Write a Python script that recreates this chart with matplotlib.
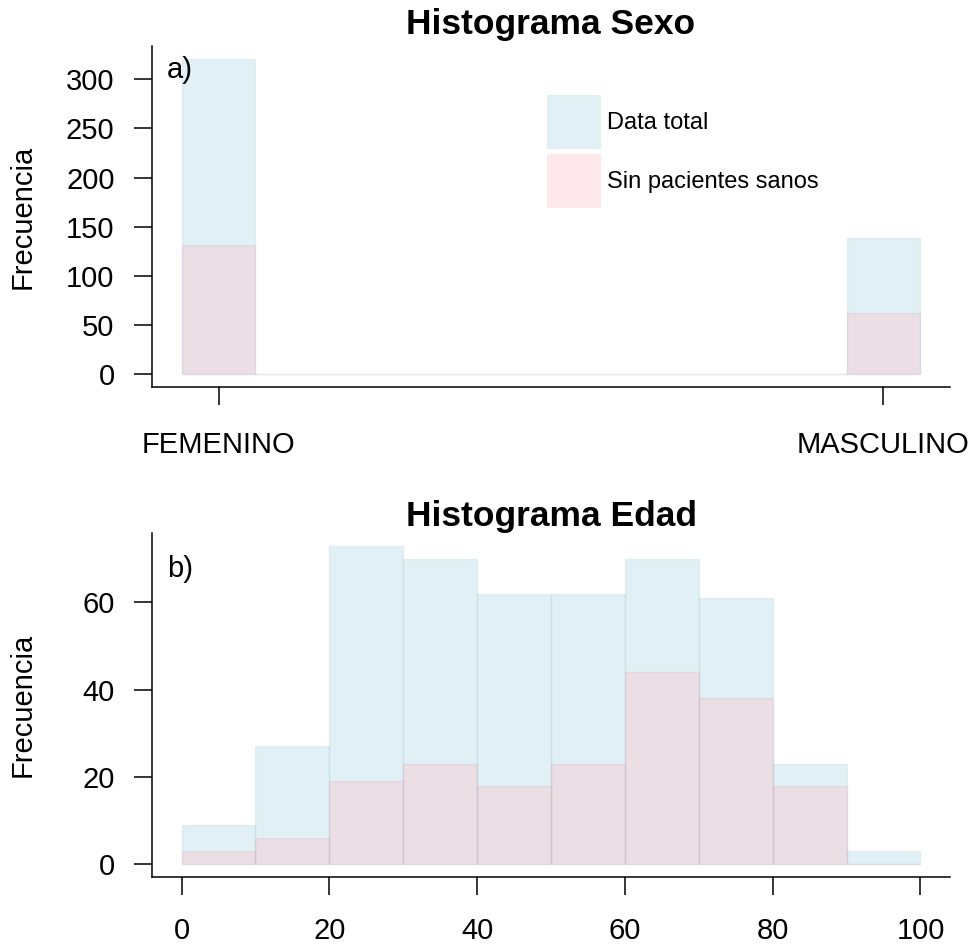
import numpy as np
import matplotlib.pyplot as plt
from matplotlib.patches import Patch

plt.rcParams['font.family'] = ['Liberation Sans', 'DejaVu Sans']

# Sexo
sex_labels = ['FEMENINO', 'MASCULINO']
sex_total = [321, 139]
sex_sin_sanos = [132, 62]

# Edad (bins of 10 years)
age_edges = [0, 10, 20, 30, 40, 50, 60, 70, 80, 90, 100]
age_total = [9, 27, 73, 70, 62, 62, 70, 61, 23, 3]
age_sin_sanos = [3, 6, 19, 23, 18, 23, 44, 38, 18, 0]

col_total = (173/255, 216/255, 230/255, 0.36)
col_sin = (255/255, 192/255, 203/255, 0.36)
edge_total = (0.55, 0.70, 0.75, 0.15)
edge_sin = (0.75, 0.55, 0.65, 0.15)

legend_labels = ['Data total', 'Sin pacientes sanos']


def style_axes(ax, xpad=19):
    """R-like 'l' box with outward ticks."""
    for side in ['top', 'right']:
        ax.spines[side].set_visible(False)
    for side in ['left', 'bottom']:
        ax.spines[side].set_linewidth(1.1)
    ax.tick_params(axis='both', direction='out', length=13, width=1.1,
                   labelsize=21, colors='black')
    ax.tick_params(axis='y', pad=14)
    ax.tick_params(axis='x', pad=xpad)


fig = plt.figure(figsize=(9.74, 9.46), dpi=100)

# a) Histograma Sexo -- numeric 1/2 coding, 10 bins of width 0.1
ax1 = fig.add_axes([152/974, 1 - 387/946, 798/974, 341/946])
sex_edges = np.linspace(1.0, 2.0, 11)
n_bins = len(sex_edges) - 1
tot_bins = np.zeros(n_bins)
sin_bins = np.zeros(n_bins)
tot_bins[0], tot_bins[-1] = sex_total
sin_bins[0], sin_bins[-1] = sex_sin_sanos
w = np.diff(sex_edges)
ax1.bar(sex_edges[:-1], tot_bins, width=w, align='edge', color=col_total,
        edgecolor=edge_total, linewidth=1)
ax1.bar(sex_edges[:-1], sin_bins, width=w, align='edge', color=col_sin,
        edgecolor=edge_sin, linewidth=1)
centers = (sex_edges[:-1] + sex_edges[1:]) / 2
ax1.set_xticks([centers[0], centers[-1]])
ax1.set_xticklabels(sex_labels, fontsize=19.5)
ax1.set_yticks(np.arange(0, 301, 50))
ax1.set_xlim(0.96, 2.04)
ymax = max(sex_total)
ax1.set_ylim(-0.04 * ymax, 1.04 * ymax)
style_axes(ax1)
ax1.set_title('Histograma Sexo', fontsize=25.5, fontweight='bold', pad=9)
ax1.text(-0.162, 0.5, 'Frecuencia', transform=ax1.transAxes, rotation=90,
         ha='center', va='center', fontsize=21)
ax1.text(0.019, 0.93, 'a)', transform=ax1.transAxes, ha='left', va='center',
         fontsize=21)
handles = [Patch(facecolor=col_total, edgecolor='none'),
           Patch(facecolor=col_sin, edgecolor='none')]
ax1.legend(handles, legend_labels, loc='upper left',
           bbox_to_anchor=(0.495, 0.856), frameon=False, fontsize=17,
           handlelength=2.29, handleheight=3.14, handletextpad=0.25,
           labelspacing=0.2, borderpad=0, borderaxespad=0)

# b) Histograma Edad
ax2 = fig.add_axes([152/974, 1 - 877/946, 798/974, 344/946])
aw = np.diff(age_edges)
ax2.bar(age_edges[:-1], age_total, width=aw, align='edge', color=col_total,
        edgecolor=edge_total, linewidth=1)
ax2.bar(age_edges[:-1], age_sin_sanos, width=aw, align='edge', color=col_sin,
        edgecolor=edge_sin, linewidth=1)
ax2.set_xticks(np.arange(0, 101, 20))
ax2.set_yticks([0, 20, 40, 60])
ax2.set_xlim(-4, 104)
ymax2 = max(age_total)
ax2.set_ylim(-0.04 * ymax2, 1.04 * ymax2)
style_axes(ax2, xpad=16)
ax2.set_title('Histograma Edad', fontsize=25.5, fontweight='bold', pad=4)
ax2.text(-0.162, 0.5, 'Frecuencia', transform=ax2.transAxes, rotation=90,
         ha='center', va='center', fontsize=21)
ax2.text(0.019, 0.895, 'b)', transform=ax2.transAxes, ha='left', va='center',
         fontsize=21)

fig.savefig('out.png', dpi=100)
